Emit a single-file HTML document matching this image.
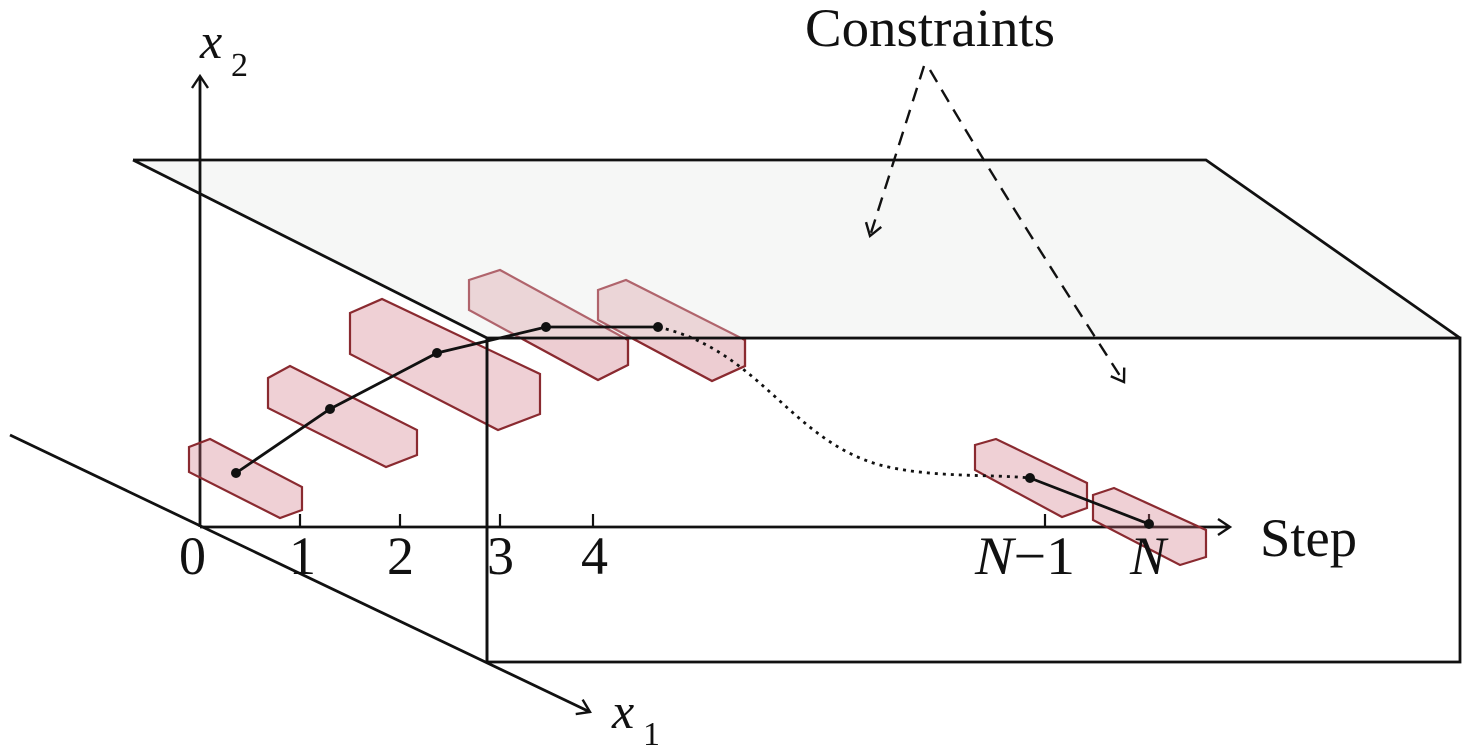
<!DOCTYPE html>
<html><head><meta charset="utf-8"><style>
html,body{margin:0;padding:0;background:#fff;}
svg{display:block;}
text{font-family:"Liberation Serif",serif;fill:#111;}
</style></head><body>
<svg width="1476" height="751" viewBox="0 0 1476 751" xmlns="http://www.w3.org/2000/svg">
<defs>
<marker id="ah" markerWidth="20" markerHeight="20" refX="14" refY="10" orient="auto" markerUnits="userSpaceOnUse">
<path d="M2,2 L14,10 L2,18" fill="none" stroke="#111" stroke-width="2.4"/>
</marker>
<clipPath id="below"><rect x="0" y="338" width="1476" height="413"/></clipPath>
</defs>
<rect x="487" y="338" width="973" height="324" fill="#fff" stroke="#111" stroke-width="2.8"/>
<polygon points="133,160 1206,160 1460,338 487,338" fill="#f6f7f6" stroke="none"/>
<polyline points="133,160 1206,160 1460,338" fill="none" stroke="#111" stroke-width="2.8"/>
<line x1="133" y1="160" x2="487" y2="338" stroke="#111" stroke-width="2.8"/>
<line x1="200" y1="527" x2="200" y2="76" stroke="#111" stroke-width="2.8" marker-end="url(#ah)"/>
<line x1="200" y1="527" x2="1230" y2="527" stroke="#111" stroke-width="2.8" marker-end="url(#ah)"/>
<line x1="10" y1="435" x2="590" y2="712" stroke="#111" stroke-width="2.8" marker-end="url(#ah)"/>
<g stroke="#111" stroke-width="2.2">
<line x1="300" y1="527" x2="300" y2="514"/><line x1="400" y1="527" x2="400" y2="514"/>
<line x1="500" y1="527" x2="500" y2="514"/><line x1="593" y1="527" x2="593" y2="514"/>
<line x1="1045" y1="527" x2="1045" y2="514"/><line x1="1149" y1="527" x2="1149" y2="514"/>
</g>
<g fill="rgba(205,110,125,0.32)" stroke="#8a2a30" stroke-width="2.2">
<polygon points="189,447 210,439 302,487 302,510 280,518 189,472"/>
<polygon points="268,378 290,366 417,430 417,455 386,467 268,408"/>
<polygon points="350,313 382,299 540,374 540,414 498,430 350,354"/>
<polygon points="975,445 996,439 1087,483 1087,508 1062,517 975,470"/>
<polygon points="1093,495 1114,488 1206,530 1206,557 1180,565 1093,520"/>
</g>
<g fill="rgba(205,110,125,0.25)" stroke="#b0646c" stroke-width="2.2">
<polygon points="469,280 500,270 628,340 628,365 598,380 469,310"/>
<polygon points="598,290 626,280 745,340 745,366 712,381 598,320"/>
</g>
<g clip-path="url(#below)" fill="rgba(205,110,125,0.12)" stroke="#8a2a30" stroke-width="2.2">
<polygon points="469,280 500,270 628,340 628,365 598,380 469,310"/>
<polygon points="598,290 626,280 745,340 745,366 712,381 598,320"/>
</g>
<line x1="487" y1="338" x2="1460" y2="338" stroke="#111" stroke-width="2.8"/>
<line x1="487" y1="338" x2="487" y2="662" stroke="#111" stroke-width="2.8"/>
<polyline points="236,473 330,409 437,353 546,327 658,327" fill="none" stroke="#111" stroke-width="2.8"/>
<path d="M658,327 C760,350 790,440 880,465 C930,478 990,474 1030,478" fill="none" stroke="#111" stroke-width="2.8" stroke-dasharray="3,5"/>
<line x1="1030" y1="478" x2="1149" y2="524" stroke="#111" stroke-width="2.8"/>
<g fill="#111">
<circle cx="236" cy="473" r="5"/><circle cx="330" cy="409" r="5"/><circle cx="437" cy="353" r="5"/>
<circle cx="546" cy="327" r="5"/><circle cx="658" cy="327" r="5"/><circle cx="1030" cy="478" r="5"/><circle cx="1149" cy="524" r="5"/>
</g>
<line x1="924" y1="66" x2="870" y2="236" stroke="#111" stroke-width="2.4" stroke-dasharray="14,9" marker-end="url(#ah)"/>
<path d="M930,70 Q1000,190 1124,382" fill="none" stroke="#111" stroke-width="2.4" stroke-dasharray="14,9" marker-end="url(#ah)"/>
<text x="805" y="46" font-size="54" textLength="250" lengthAdjust="spacingAndGlyphs">Constraints</text>
<text x="1260" y="556" font-size="54" textLength="97" lengthAdjust="spacingAndGlyphs">Step</text>
<text x="200" y="58" font-size="50" font-style="italic">x</text>
<text x="231" y="76" font-size="34">2</text>
<text x="612" y="728" font-size="50" font-style="italic">x</text>
<text x="643" y="745" font-size="34">1</text>
<g font-size="54">
<text x="179" y="574">0</text><text x="289" y="574">1</text><text x="387" y="574">2</text>
<text x="487" y="574">3</text><text x="581" y="574">4</text>
<text x="975" y="574" textLength="100" lengthAdjust="spacingAndGlyphs"><tspan font-style="italic">N</tspan>−1</text>
<text x="1130" y="574" font-style="italic">N</text>
</g>
</svg>
</body></html>
